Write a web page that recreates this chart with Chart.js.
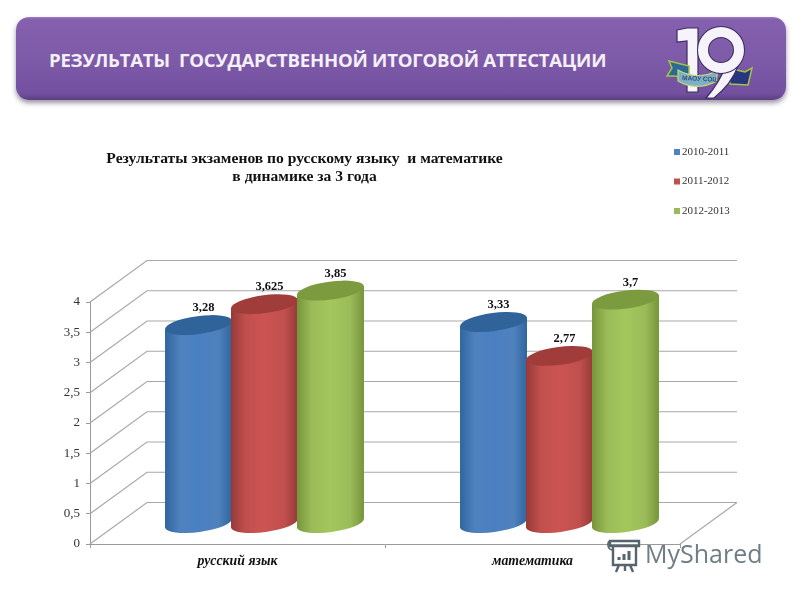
<!DOCTYPE html>
<html lang="ru"><head><meta charset="utf-8">
<script src="https://cdn.jsdelivr.net/npm/chart.js@4/dist/chart.umd.js"></script>
<style>
html,body{margin:0;padding:0;background:#fff;width:800px;height:600px;overflow:hidden}
#banner{position:absolute;left:16px;top:17px;width:770px;height:83px;border-radius:13px;
 background:linear-gradient(#9a80c0 0,#8460ae 3%,#7e5ba8 50%,#7350a0 92%,#5b3f80 100%);
 box-shadow:0 3px 5px rgba(70,60,90,.55)}
#bannerText{position:absolute;left:49px;top:47px;font:700 18.6px/26px "Open Sans",sans-serif;color:#f4f0f8;white-space:pre;letter-spacing:-.25px}
canvas{position:absolute;left:0;top:0}
svg{position:absolute;left:0;top:0}
#wm{position:absolute;left:645px;top:534px;font:400 25px/38px "Open Sans",sans-serif;color:#6f7d85;letter-spacing:0}
</style></head><body>
<div id="banner"></div>
<div id="bannerText">РЕЗУЛЬТАТЫ  ГОСУДАРСТВЕННОЙ ИТОГОВОЙ АТТЕСТАЦИИ</div>
<canvas id="c" width="800" height="600"></canvas>
<svg width="800" height="600" viewBox="0 0 800 600">
 <!-- emblem -->
 <path d="M728 68l17 4 7-4-4 17-18-1z" fill="#27367f" stroke="#a4c544" stroke-width="1.5"/>
 <path d="M677 30l10-2h11v64h-11V41l-10 1z" fill="#f6f4fa" stroke="#3a2c60" stroke-width="1.2"/>
 <path d="M669 61l20 5v12l-15-2h-7l5-8z" fill="#2a6a93" stroke="#a4c544" stroke-width="1.5"/>
 <path d="M678 70c12 7 26 7 39 1v10c-13 7-27 7-39 0z" fill="#7bb0c8" stroke="#c9d870" stroke-width="1.2"/>
 <text x="682" y="80" font-family="Liberation Sans" font-size="6.5" font-weight="700" fill="#3d4f70" transform="rotate(3 682 80)">МАОУ СОШ</text>
 <path d="M738 66c-5 14-14 24-24 32h-8c8-9 16-22 20-33z" fill="#f6f4fa" stroke="#3a2c60" stroke-width="1.2"/>
 <circle cx="721" cy="50" r="18" fill="none" stroke="#3a2c60" stroke-width="12"/>
 <circle cx="721" cy="50" r="18" fill="none" stroke="#f6f4fa" stroke-width="10"/>
 <!-- watermark icon -->
 <g fill="none" stroke="#55656d" stroke-width="2.4">
  <path d="M610 541h29v5h-29zM613 546v19h23v-19M619 565l-3 7M630 565l3 7M625 565v6"/>
  <path d="M610 541c-3 1-3 8 2 9" stroke-width="1.6"/>
  <path d="M619 560v-3M624 560v-6M629 560v-9" stroke-width="3"/>
 </g>
</svg>
<div id="wm">MyShared</div>
<script>
const categories = ['русский язык', 'математика'];
const seriesNames = ['2010-2011', '2011-2012', '2012-2013'];
const values2010 = [3.28, 3.33];
const values2011 = [3.625, 2.77];
const values2012 = [3.85, 3.7];
const yTickLabels = ['0', '0,5', '1', '1,5', '2', '2,5', '3', '3,5', '4'];
const titleLines = ['Результаты экзаменов по русскому языку  и математике', 'в динамике за 3 года'];

const palette = [
 {main:'#4f81bd', edge:'#2f659f', mid:'#4a80c2', top:'#2f6399'},
 {main:'#c0504d', edge:'#963a38', mid:'#cc5452', top:'#a03c3a'},
 {main:'#9bbb59', edge:'#75953a', mid:'#a3c75c', top:'#7c9b3f'}
];
const DEPTH_X = 57, DEPTH_Y = 41.5;     // wall offset of the pseudo-3D box
const BAR_DX = 27, BAR_DY = 20.5;       // bars stand in the middle of the depth
const TILT = -7.5 * Math.PI / 180, RY = 9;

const fmt = v => String(v).replace('.', ',');

function drawCylinder(ctx, el, p) {
 const {x: ex, y: ey, base, width: w} = el.getProps(['x', 'y', 'base', 'width'], true);
 const cx = ex + BAR_DX, top = ey - BAR_DY, bot = base - BAR_DY;
 const rx = w / 2 + .5, dy = Math.tan(-TILT) * rx;
 const g = ctx.createLinearGradient(cx - rx, 0, cx + rx, 0);
 g.addColorStop(0, p.edge); g.addColorStop(.22, p.main); g.addColorStop(.5, p.mid);
 g.addColorStop(.8, p.main); g.addColorStop(1, p.edge);
 ctx.save();
 ctx.fillStyle = g;
 ctx.beginPath();
 ctx.moveTo(cx - rx, top + dy); ctx.lineTo(cx + rx, top - dy);
 ctx.lineTo(cx + rx, bot - dy);
 ctx.ellipse(cx, bot, rx / Math.cos(TILT), RY, TILT, 0, Math.PI);
 ctx.closePath(); ctx.fill();
 ctx.fillStyle = p.top;
 ctx.beginPath(); ctx.ellipse(cx, top, rx / Math.cos(TILT), RY, TILT, 0, Math.PI * 2); ctx.fill();
 ctx.restore();
}

const scenery = {
 id: 'scenery',
 beforeDatasetsDraw(chart) {
  const {ctx, scales: {x, y}} = chart;
  ctx.save();
  ctx.strokeStyle = '#a8a8a8'; ctx.lineWidth = 1.2;
  y.ticks.forEach(t => {
   const py = y.getPixelForValue(t.value);
   ctx.beginPath();
   ctx.moveTo(x.left, py);
   ctx.lineTo(x.left + DEPTH_X, py - DEPTH_Y);
   ctx.lineTo(x.right + DEPTH_X, py - DEPTH_Y);
   ctx.stroke();
  });
  const y0 = y.getPixelForValue(0);
  ctx.beginPath(); ctx.moveTo(x.right, y0); ctx.lineTo(x.right + DEPTH_X, y0 - DEPTH_Y); ctx.stroke();
  ctx.restore();
  // blue first, green last: each later cylinder overlaps the one before it
  chart.data.datasets.forEach((ds, i) => {
   chart.getDatasetMeta(i).data.forEach(el => drawCylinder(ctx, el, palette[i]));
  });
 },
 beforeDatasetDraw() { return false; },
 afterDatasetsDraw(chart) {
  const {ctx} = chart;
  ctx.save();
  ctx.fillStyle = '#111'; ctx.textAlign = 'center'; ctx.textBaseline = 'middle';
  ctx.font = 'bold 12.5px "Liberation Serif"';
  chart.data.datasets.forEach((ds, i) => {
   chart.getDatasetMeta(i).data.forEach((el, j) => {
    ctx.fillText(fmt(ds.data[j]), el.x + BAR_DX + 5, el.y - BAR_DY - 17);
   });
  });
  // title
  ctx.font = 'bold 15.6px "Liberation Serif"';
  titleLines.forEach((t, i) => ctx.fillText(t, 304.5, 158.5 + i * 18));
  // legend
  ctx.font = '11px "Liberation Serif"'; ctx.textAlign = 'left';
  seriesNames.forEach((s, i) => {
   const ly = 152 + i * 29.5;
   ctx.fillStyle = palette[i].main; ctx.fillRect(674, ly - 3, 6, 6);
   ctx.fillStyle = '#333'; ctx.fillText(s, 682, ly);
  });
  ctx.restore();
 }
};

const makeDs = (i, data) => ({
 label: seriesNames[i], data,
 backgroundColor: palette[i].main, categoryPercentage: .671, barPercentage: 1
});

new Chart(document.getElementById('c'), {
 type: 'bar',
 data: {labels: categories, datasets: [makeDs(0, values2010), makeDs(1, values2011), makeDs(2, values2012)]},
 plugins: [scenery],
 options: {
  responsive: false, animation: false,
  layout: {padding: {left: 50, right: 120, top: 302, bottom: 26}},
  plugins: {legend: {display: false}, title: {display: false}, tooltip: {enabled: false}},
  scales: {
   x: {
    afterFit: s => { s.height = 30; },
    border: {display: true, color: '#9a9a9a', width: 1},
    grid: {offset: true, drawOnChartArea: false, drawTicks: true, tickLength: 4, color: '#9a9a9a'},
    ticks: {font: {family: '"Liberation Serif"', size: 13.8, style: 'italic', weight: 'bold'}, color: '#111', padding: 5, maxRotation: 0}
   },
   y: {
    min: 0, max: 4,
    afterFit: s => { s.width = 40; },
    border: {display: true, color: '#9a9a9a', width: 1},
    grid: {drawOnChartArea: false, drawTicks: true, tickLength: 4, color: '#9a9a9a'},
    ticks: {stepSize: .5, font: {family: '"Liberation Serif"', size: 13}, color: '#333', padding: 6,
     callback: (v, i) => yTickLabels[i]}
   }
  }
 }
});
</script>
</body></html>
